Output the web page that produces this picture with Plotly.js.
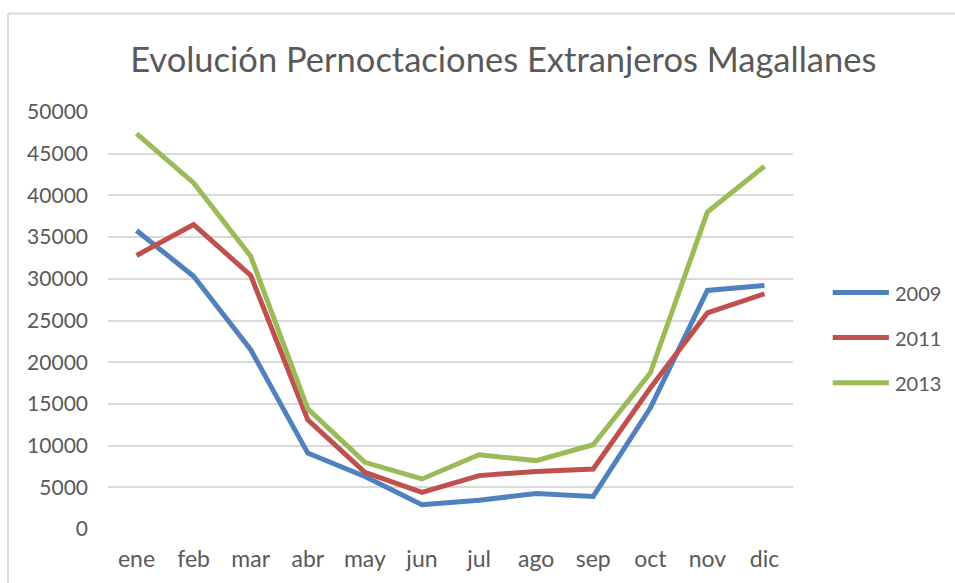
<!DOCTYPE html>
<html>
<head>
<meta charset="utf-8">
<script src="https://cdn.plot.ly/plotly-3.0.1.min.js"></script>
<style>
html,body{margin:0;padding:0;background:#fff;}
#chart{width:955px;height:583px;}
</style>
</head>
<body>
<div id="chart"></div>
<script>
const months = ["ene","feb","mar","abr","may","jun","jul","ago","sep","oct","nov","dic"];
const y2009 = [35800,30300,21500,9100,6300,2900,3450,4250,3900,14500,28600,29200];
const y2011 = [32800,36500,30400,13100,6800,4400,6400,6900,7200,16900,25900,28200];
const y2013 = [47400,41500,32700,14400,8000,6000,8900,8200,10100,18700,38000,43500];
const seriesNames = ["2009","2011","2013"];
const seriesColors = ["#4F81BD","#C0504D","#9BBB59"];
const seriesData = [y2009,y2011,y2013];

const font = "Lato, 'Open Sans', sans-serif";
const textColor = "#595959";

const traces = seriesData.map((d,i)=>({
  type:"scatter", mode:"lines", x:months, y:d, name:seriesNames[i],
  line:{color:seriesColors[i], width:5}, showlegend:false
}));

const legendY = [0.567,0.459,0.351];
const shapes = [
  {type:"line", xref:"paper", yref:"paper", x0:-0.146, x1:-0.146, y0:-0.2, y1:1.236, line:{color:"#d9d9d9", width:2}},
  {type:"line", xref:"paper", yref:"paper", x0:-0.146, x1:1.3, y0:1.236, y1:1.236, line:{color:"#d9d9d9", width:2}}
];
const annotations = [];
seriesNames.forEach((n,i)=>{
  shapes.push({type:"line", xref:"paper", yref:"paper", x0:1.058, x1:1.140, y0:legendY[i], y1:legendY[i], line:{color:seriesColors[i], width:5}});
  annotations.push({xref:"paper", yref:"paper", x:1.146, y:legendY[i], xanchor:"left", yanchor:"middle", text:n, showarrow:false, font:{family:font, size:20, color:textColor}});
});

const layout = {
  width:955, height:583,
  margin:{l:108, r:162, t:112, b:54},
  paper_bgcolor:"#fff", plot_bgcolor:"#fff",
  title:{text:"Evolución Pernoctaciones Extranjeros Magallanes", font:{family:font, size:34.5, color:textColor}, x:0.527, xanchor:"center", y:0.897, yanchor:"middle"},
  xaxis:{type:"category", range:[-0.5,11.5], showgrid:false, zeroline:false, showline:false, ticks:"", tickfont:{family:font, size:23, color:textColor}, ticklabelstandoff:14, fixedrange:true},
  yaxis:{range:[0,50000], dtick:5000, tick0:0, tickformat:"d", showgrid:true, gridcolor:"#d9d9d9", gridwidth:2, zeroline:false, showline:false, ticks:"", tickfont:{family:font, size:21, color:textColor}, ticklabelstandoff:19, fixedrange:true},
  shapes:shapes, annotations:annotations, showlegend:false
};
Plotly.newPlot("chart", traces, layout, {displayModeBar:false, staticPlot:true});
</script>
</body>
</html>
